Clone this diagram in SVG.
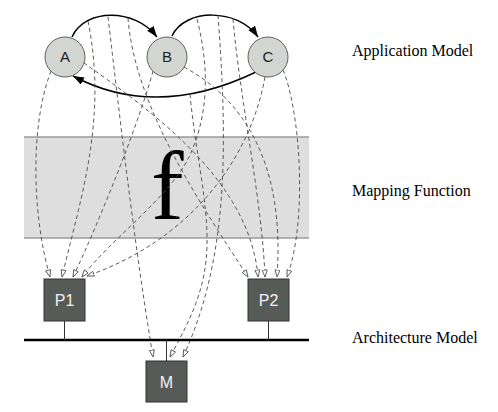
<svg xmlns="http://www.w3.org/2000/svg" width="498" height="412" viewBox="0 0 498 412">
<style>
.band{fill:#dedede}
.bandline{stroke:#9a9a9a;stroke-width:1.5;fill:none}
.task circle{fill:#d3d5d1;stroke:#606060;stroke-width:1}
.task text{font-family:"Liberation Sans",Arial,sans-serif;font-size:15px;fill:#222;text-anchor:middle}
.res rect{fill:#575b57;stroke:#333;stroke-width:1}
.res text{font-family:"Liberation Sans",Arial,sans-serif;font-size:16px;fill:#f2f2f2;text-anchor:middle}
.arc{fill:none;stroke:#000;stroke-width:1.5;marker-end:url(#solid)}
.map{fill:none;stroke:#4a4a4a;stroke-width:0.9;stroke-dasharray:4 3;marker-end:url(#open)}
.wire{stroke:#333;stroke-width:1;fill:none}
.bus{stroke:#000;stroke-width:2.5}
.lbl{font-family:"Liberation Serif","Times New Roman",serif;font-size:16px;fill:#000}
</style>
<defs>
<marker id="solid" markerUnits="userSpaceOnUse" markerWidth="12" markerHeight="9" refX="11" refY="4" orient="auto">
<path d="M0,0 L11,4 L0,8 z" fill="#000"/>
</marker>
<marker id="open" markerUnits="userSpaceOnUse" markerWidth="9" markerHeight="7" refX="7.5" refY="3" orient="auto">
<path d="M0.5,0.5 L7.5,3 L0.5,5.5 z" fill="#fff" stroke="#444" stroke-width="0.8"/>
</marker>
</defs>

<g id="mapping-band">
<rect class="band" x="24" y="137" width="285" height="101"/>
<line class="bandline" x1="24" y1="137" x2="309" y2="137"/>
<line class="bandline" x1="24" y1="238" x2="309" y2="238"/>
<text x="151" y="219" font-family="Liberation Serif,'Times New Roman',serif" font-size="98" fill="#000">f</text>
</g>

<g id="connectors">
<path class="arc" d="M72,37 C85,8 135,8 157,37"/>
<path class="arc" d="M172,36 C185,8 238,8 258,37"/>
<path class="arc" d="M256,72 Q156,120 73,76"/>

<path class="map" d="M51,71 C30,125 32,215 50,277"/>
<path class="map" d="M88,21 C108,120 80,200 62,277"/>
<path class="map" d="M108,17 C118,100 132,230 153,357"/>
<path class="map" d="M153,71 C140,120 100,220 73,277"/>
<path class="map" d="M128,18 C135,110 205,210 248,277"/>
<path class="map" d="M190,94 C195,150 208,200 207,245 C206,290 190,320 170,357"/>
<path class="map" d="M84,63 C150,110 250,180 258,277"/>
<path class="map" d="M197,19 C210,70 208,115 190,155 C172,195 110,240 82,277"/>
<path class="map" d="M218,15 C228,150 228,260 183,357"/>
<path class="map" d="M265,77 C250,160 190,240 87,276"/>
<path class="map" d="M233,19 C240,100 262,200 265,277"/>
<path class="map" d="M184,67 C245,100 285,165 277,277"/>
<path class="map" d="M283,70 C300,110 308,220 287,277"/>

<line class="bus" x1="24" y1="340" x2="309" y2="340"/>
<line class="wire" x1="64.5" y1="321" x2="64.5" y2="340"/>
<line class="wire" x1="268.5" y1="321" x2="268.5" y2="340"/>
<line class="wire" x1="166.5" y1="340" x2="166.5" y2="361"/>
</g>

<g id="A" class="task"><circle cx="65" cy="57" r="20"/><text x="65" y="62">A</text></g>
<g id="B" class="task"><circle cx="167" cy="57" r="20"/><text x="167" y="62">B</text></g>
<g id="C" class="task"><circle cx="268" cy="57" r="20"/><text x="268" y="62">C</text></g>

<g id="P1" class="res"><rect x="44" y="279" width="41" height="42"/><text x="64.5" y="306">P1</text></g>
<g id="P2" class="res"><rect x="248" y="279" width="41" height="42"/><text x="268.5" y="306">P2</text></g>
<g id="M" class="res"><rect x="146" y="361" width="41" height="41"/><text x="166.5" y="388">M</text></g>

<g id="labels">
<text class="lbl" x="352" y="56">Application Model</text>
<text class="lbl" x="352" y="196">Mapping Function</text>
<text class="lbl" x="352" y="343">Architecture Model</text>
</g>
</svg>
